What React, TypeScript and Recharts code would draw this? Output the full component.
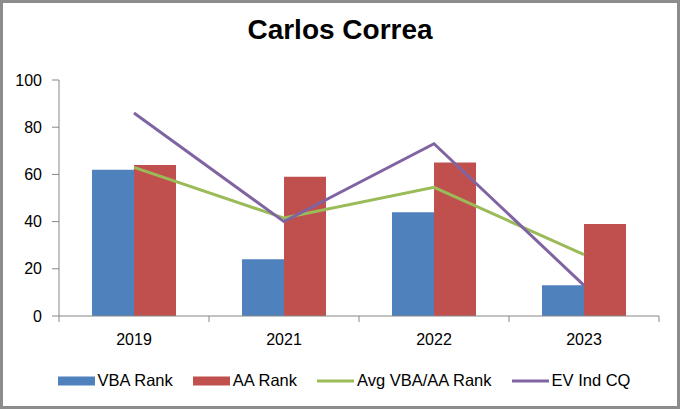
import React from 'react';
import {
  ComposedChart,
  Bar,
  Line,
  XAxis,
  YAxis,
  Legend,
} from 'recharts';

const YEARS = ['2019', '2021', '2022', '2023'];
const VBA_RANK = [62, 24, 44, 13];
const AA_RANK = [64, 59, 65, 39];
const AVG_RANK = [63, 41.5, 54.5, 26];
const EV_IND_CQ = [86, 40, 73, 13];
const Y_TICKS = [0, 20, 40, 60, 80, 100];
const LEGEND_ORDER = ['VBA Rank', 'AA Rank', 'Avg VBA/AA Rank', 'EV Ind CQ'];

const data = YEARS.map((year, i) => ({
  year,
  vba: VBA_RANK[i],
  aa: AA_RANK[i],
  avg: AVG_RANK[i],
  ev: EV_IND_CQ[i],
}));

const FONT = '"Liberation Sans", Arial, sans-serif';
const AXIS = '#868686';

// category label plus Excel-style tick marks between categories
function YearTick(props: any) {
  const { x, y, payload, index, visibleTicksCount } = props;
  const half = payload && payload.offset ? payload.offset : 0;
  const last = index === (visibleTicksCount || YEARS.length) - 1;
  return (
    <g>
      <line x1={x - half} y1={y} x2={x - half} y2={y + 6} stroke={AXIS} />
      {last && <line x1={x + half} y1={y} x2={x + half} y2={y + 6} stroke={AXIS} />}
      <text
        x={x}
        y={y + 18}
        dy="0.71em"
        textAnchor="middle"
        fill="#000"
        fontSize={16}
        fontFamily={FONT}
      >
        {payload.value}
      </text>
    </g>
  );
}

function LegendContent(props: any) {
  const items = [...(props.payload || [])].sort(
    (a: any, b: any) => LEGEND_ORDER.indexOf(a.value) - LEGEND_ORDER.indexOf(b.value)
  );
  return (
    <div
      style={{
        display: 'flex',
        justifyContent: 'center',
        alignItems: 'center',
        fontFamily: FONT,
        fontSize: 16.5,
        color: '#000',
        paddingLeft: 8,
      }}
    >
      {items.map((item: any, i: number) => (
        <div
          key={item.value}
          style={{ display: 'flex', alignItems: 'center', marginLeft: i === 0 ? 0 : 20 }}
        >
          <svg width={37} height={10} style={{ marginRight: 3 }}>
            {item.type === 'rect' ? (
              <rect x={0} y={0.5} width={37} height={9} fill={item.color} />
            ) : (
              <line x1={0} y1={5} x2={37} y2={5} stroke={item.color} strokeWidth={3} />
            )}
          </svg>
          <span>{item.value}</span>
        </div>
      ))}
    </div>
  );
}

export default function App() {
  return (
    <div
      style={{
        position: 'absolute',
        left: 0,
        top: 0,
        width: 680,
        height: 409,
        background: '#fff',
        fontFamily: FONT,
      }}
    >
      <div
        style={{
          position: 'absolute',
          left: 0,
          top: 14,
          width: 680,
          textAlign: 'center',
          fontSize: 28,
          fontWeight: 'bold',
          color: '#000',
        }}
      >
        Carlos Correa
      </div>
      <ComposedChart
        width={680}
        height={409}
        data={data}
        margin={{ top: 80, right: 21, left: 0, bottom: 23 }}
        barCategoryGap="22%"
        barGap={0}
      >
        <XAxis
          dataKey="year"
          height={30}
          stroke={AXIS}
          tickLine={false}
          tickSize={0}
          tickMargin={0}
          tick={<YearTick />}
        />
        <YAxis
          domain={[0, 100]}
          ticks={Y_TICKS}
          width={59}
          stroke={AXIS}
          tickSize={7}
          tickMargin={10}
          tick={{ fill: '#000', fontSize: 16, fontFamily: FONT }}
        />
        <Legend
          verticalAlign="bottom"
          height={40}
          wrapperStyle={{ top: 371, bottom: 'auto', left: 0, width: 680 }}
          content={<LegendContent />}
        />
        <Bar dataKey="vba" name="VBA Rank" fill="#4F81BD" legendType="rect" isAnimationActive={false} />
        <Bar dataKey="aa" name="AA Rank" fill="#C0504D" legendType="rect" isAnimationActive={false} />
        <Line
          dataKey="avg"
          name="Avg VBA/AA Rank"
          type="linear"
          stroke="#9BBB59"
          strokeWidth={3}
          dot={false}
          legendType="line"
          isAnimationActive={false}
        />
        <Line
          dataKey="ev"
          name="EV Ind CQ"
          type="linear"
          stroke="#8064A2"
          strokeWidth={3}
          dot={false}
          legendType="line"
          isAnimationActive={false}
        />
      </ComposedChart>
      <div
        style={{
          position: 'absolute',
          left: 0,
          top: 0,
          width: 680,
          height: 409,
          boxSizing: 'border-box',
          border: '3px solid #8c8c8c',
          pointerEvents: 'none',
        }}
      />
    </div>
  );
}
